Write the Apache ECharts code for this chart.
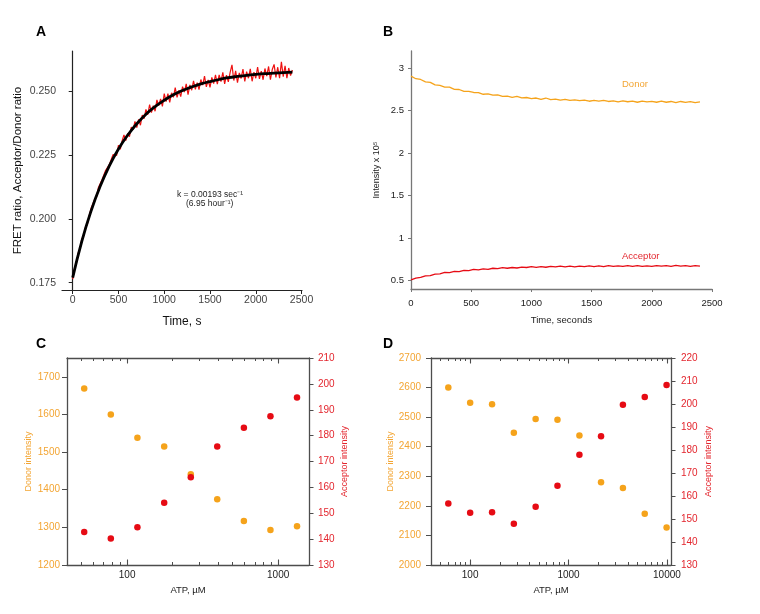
<!DOCTYPE html>
<html><head><meta charset="utf-8">
<script src="https://cdn.jsdelivr.net/npm/echarts@6/dist/echarts.min.js"></script>
<style>html,body{margin:0;padding:0;background:#fff}#c{width:760px;height:614px}</style>
</head><body><div id="c"></div>
<script>
// ---------- Panel A: FRET ratio vs time ----------
const timeA = [0,20,40,60,80,100,120,140,160,180,200,220,240,260,280,300,320,340,360,380,400,420,440,460,480,500,520,540,560,580,600,620,640,660,680,700,720,740,760,780,800,820,840,860,880,900,920,940,960,980,1000,1020,1040,1060,1080,1100,1120,1140,1160,1180,1200,1220,1240,1260,1280,1300,1320,1340,1360,1380,1400,1420,1440,1460,1480,1500,1520,1540,1560,1580,1600,1620,1640,1660,1680,1700,1720,1740,1760,1780,1800,1820,1840,1860,1880,1900,1920,1940,1960,1980,2000,2020,2040,2060,2080,2100,2120,2140,2160,2180,2200,2220,2240,2260,2280,2300,2320,2340,2360,2380,2400];
const fretA = [0.1764,0.1806,0.1826,0.1866,0.1883,0.1922,0.1933,0.1968,0.1978,0.2012,
0.2040,0.2042,0.2077,0.2085,0.2121,0.2117,0.2153,0.2154,0.2190,0.2186,
0.2212,0.2207,0.2251,0.2254,0.2248,0.2288,0.2272,0.2306,0.2328,0.2306,
0.2334,0.2321,0.2359,0.2349,0.2381,0.2357,0.2389,0.2366,0.2406,0.2392,
0.2428,0.2407,0.2447,0.2415,0.2443,0.2421,0.2465,0.2443,0.2469,0.2440,
0.2490,0.2458,0.2490,0.2455,0.2493,0.2475,0.2513,0.2475,0.2502,0.2478,
0.2517,0.2496,0.2528,0.2486,0.2524,0.2503,0.2540,0.2506,0.2533,0.2505,
0.2545,0.2523,0.2558,0.2516,0.2543,0.2514,0.2553,0.2529,0.2563,0.2527,
0.2563,0.2537,0.2573,0.2528,0.2562,0.2536,0.2573,0.2602,0.2541,0.2579,
0.2533,0.2571,0.2549,0.2586,0.2538,0.2576,0.2550,0.2587,0.2538,0.2574,
0.2550,0.2594,0.2547,0.2578,0.2544,0.2588,0.2558,0.2596,0.2544,0.2584,
0.2604,0.2553,0.2593,0.2550,0.2614,0.2556,0.2598,0.2550,0.2590,0.2560,
0.2582];
const fitTimeA = [0,100,200,300,400,500,600,700,800,900,1000,1100,1200,1300,1400,1500,1600,1700,1800,1900,2000,2100,2200,2300,2400];
const fitA = [0.1770,0.1913,0.2030,0.2127,0.2207,0.2273,0.2327,0.2372,0.2409,0.2439,0.2464,0.2485,0.2502,0.2516,0.2528,0.2537,0.2545,0.2552,0.2557,0.2561,0.2565,0.2568,0.2570,0.2572,0.2574];
const ticksAx = [0,500,1000,1500,2000,2500];
const ticksAy = [0.175,0.200,0.225,0.250];

// ---------- Panel B: donor / acceptor intensity vs time ----------
const timeB = [0,40,80,120,160,200,240,280,320,360,400,440,480,520,560,600,640,680,720,760,800,840,880,920,960,1000,1040,1080,1120,1160,1200,1240,1280,1320,1360,1400,1440,1480,1520,1560,1600,1640,1680,1720,1760,1800,1840,1880,1920,1960,2000,2040,2080,2120,2160,2200,2240,2280,2320,2360,2400];
const donorB = [2.904,2.874,2.865,2.837,2.830,2.801,2.795,2.774,2.774,2.749,
2.747,2.725,2.726,2.712,2.711,2.691,2.695,2.680,2.684,2.667,
2.669,2.655,2.665,2.648,2.653,2.640,2.647,2.631,2.647,2.629,
2.633,2.621,2.632,2.618,2.624,2.615,2.623,2.609,2.619,2.610,
2.620,2.606,2.613,2.602,2.614,2.603,2.611,2.597,2.610,2.601,
2.607,2.597,2.609,2.597,2.606,2.592,2.606,2.596,2.605,2.593,
2.602];
const acceptorB = [0.507,0.529,0.536,0.555,0.557,0.574,0.578,0.595,0.592,0.606,
0.605,0.619,0.617,0.630,0.625,0.636,0.632,0.644,0.640,0.651,
0.644,0.653,0.647,0.658,0.653,0.662,0.654,0.663,0.656,0.666,
0.660,0.669,0.660,0.668,0.661,0.670,0.664,0.672,0.664,0.671,
0.663,0.676,0.666,0.673,0.666,0.675,0.667,0.674,0.665,0.673,
0.667,0.676,0.668,0.675,0.667,0.677,0.668,0.675,0.666,0.674,
0.669];
const ticksBx = [0,500,1000,1500,2000,2500];
const ticksBy = [0.5,1,1.5,2,2.5,3];

// ---------- Panel C ----------
const atpC = [52, 78, 117, 176, 264, 395, 593, 889, 1333];
const donorC = [1669, 1600, 1538, 1515, 1441, 1375, 1317, 1293, 1303];
const acceptorC = [142.8, 140.2, 144.6, 154.1, 163.9, 175.8, 183.0, 187.5, 194.7];
const ticksCyLeft = [1200,1300,1400,1500,1600,1700];
const ticksCMajor = [100,1000];
const ticksCMinor = [50,60,70,80,90,200,300,400,500,600,700,800,900];

// ---------- Panel D ----------
const atpD = [60, 100, 167, 278, 463, 772, 1290, 2140, 3570, 5950, 9920];
const donorD = [2600, 2549, 2544, 2447, 2494, 2491, 2438, 2280, 2260, 2173, 2127];
const acceptorD = [156.7, 152.7, 152.9, 147.9, 155.3, 164.5, 177.9, 186.0, 199.7, 203.0, 208.3];
const ticksDMajor = [100,1000,10000];
const ticksDMinor = [50,60,70,80,90,200,300,400,500,600,700,800,900,2000,3000,4000,5000,6000,7000,8000,9000];

const FONT = 'Liberation Sans, Arial, Helvetica, sans-serif';
const ORANGE = '#f5a31b';
const ORANGE_TXT = '#f3a533';
const RED = '#e60b14';
const RED_TXT = '#e3262e';
const FRAME = '#4d4d4d';
const plain = v => String(Math.round(Number(v) * 1000) / 1000);

const zip = (xs, ys) => xs.map((x, i) => [x, ys[i]]);

function logAxes(grid, min, max, major, minor, name) {
  const base = {gridIndex: grid, type: 'log', logBase: 10, min: min, max: max, splitLine: {show: false}};
  return [
    Object.assign({}, base, {position: 'bottom',
      axisLine: {show: true, lineStyle: {color: FRAME, width: 1.3}},
      axisTick: {show: true, inside: true, length: 5.5, customValues: major, lineStyle: {color: FRAME, width: 1.1}},
      axisLabel: {customValues: major, formatter: plain, fontSize: 10, color: '#222', margin: 5, fontFamily: FONT},
      name: name, nameLocation: 'middle', nameGap: 20,
      nameTextStyle: {fontSize: 9.5, color: '#222', fontFamily: FONT}}),
    Object.assign({}, base, {position: 'bottom',
      axisLine: {show: false},
      axisTick: {show: true, inside: true, length: 3, customValues: minor, lineStyle: {color: FRAME, width: 1}},
      axisLabel: {show: false}}),
    Object.assign({}, base, {position: 'top',
      axisLine: {show: true, lineStyle: {color: FRAME, width: 1.3}},
      axisTick: {show: true, inside: true, length: 5.5, customValues: major, lineStyle: {color: FRAME, width: 1.1}},
      axisLabel: {show: false}}),
    Object.assign({}, base, {position: 'top',
      axisLine: {show: false},
      axisTick: {show: true, inside: true, length: 3, customValues: minor, lineStyle: {color: FRAME, width: 1}},
      axisLabel: {show: false}})
  ];
}

const xAxes = [
  {gridIndex: 0, type: 'value', min: -117, max: 2505, splitLine: {show: false},
   axisLine: {lineStyle: {color: '#222', width: 1.2}},
   axisTick: {customValues: ticksAx, length: 4, lineStyle: {color: '#222'}},
   axisLabel: {customValues: ticksAx, formatter: plain, fontSize: 10.5, color: '#444', margin: 5, fontFamily: FONT},
   name: 'Time, s', nameLocation: 'middle', nameGap: 26,
   nameTextStyle: {fontSize: 12, color: '#111', fontFamily: FONT}},
  {gridIndex: 1, type: 'value', min: 0, max: 2500, splitLine: {show: false},
   axisLine: {lineStyle: {color: '#777', width: 1.3}},
   axisTick: {customValues: ticksBx, length: 3, lineStyle: {color: '#777'}},
   axisLabel: {customValues: ticksBx, formatter: plain, fontSize: 9.5, color: '#222', margin: 9, fontFamily: FONT},
   name: 'Time, seconds', nameLocation: 'middle', nameGap: 26,
   nameTextStyle: {fontSize: 9.5, color: '#222', fontFamily: FONT}}
].concat(logAxes(2, 40, 1600, ticksCMajor, ticksCMinor, 'ATP, µM'))
 .concat(logAxes(3, 40, 11000, ticksDMajor, ticksDMinor, 'ATP, µM'));

const yAxes = [
  {gridIndex: 0, type: 'value', min: 0.17214, max: 0.26565, splitLine: {show: false},
   axisLine: {show: true, lineStyle: {color: '#222', width: 1.2}},
   axisTick: {show: true, customValues: ticksAy, length: 4, lineStyle: {color: '#222'}},
   axisLabel: {customValues: ticksAy, formatter: v => Number(v).toFixed(3), fontSize: 10.5, color: '#444', margin: 6, fontFamily: FONT},
   name: 'FRET ratio, Acceptor/Donor ratio', nameLocation: 'middle', nameGap: 38,
   nameTextStyle: {fontSize: 11.5, color: '#111', fontFamily: FONT}},
  {gridIndex: 1, type: 'value', min: 0.4, max: 3.2, splitLine: {show: false},
   axisLine: {show: true, lineStyle: {color: '#777', width: 1.3}},
   axisTick: {show: true, customValues: ticksBy, length: 3, lineStyle: {color: '#777'}},
   axisLabel: {customValues: ticksBy, formatter: plain, fontSize: 9.5, color: '#222', margin: 7, fontFamily: FONT},
   name: 'Intensity x 10\u2075', nameLocation: 'middle', nameGap: 30,
   nameTextStyle: {fontSize: 9, color: '#222', fontFamily: FONT}},
  {gridIndex: 2, type: 'value', min: 1200, max: 1750, position: 'left', splitLine: {show: false},
   axisLine: {show: true, lineStyle: {color: FRAME, width: 1.3}},
   axisTick: {show: true, customValues: ticksCyLeft, length: 5, lineStyle: {color: FRAME}},
   axisLabel: {customValues: ticksCyLeft, formatter: plain, fontSize: 10, color: ORANGE_TXT, margin: 7, fontFamily: FONT},
   name: 'Donor intensity', nameLocation: 'middle', nameGap: 34,
   nameTextStyle: {fontSize: 9, color: ORANGE_TXT, fontFamily: FONT}},
  {gridIndex: 2, type: 'value', min: 130, max: 210, interval: 10, position: 'right', splitLine: {show: false},
   axisLine: {show: true, lineStyle: {color: FRAME, width: 1.3}},
   axisTick: {show: true, length: 4.5, lineStyle: {color: FRAME}},
   axisLabel: {formatter: plain, fontSize: 10, color: RED_TXT, margin: 9, fontFamily: FONT},
   name: 'Acceptor intensity', nameLocation: 'middle', nameGap: 31, nameRotate: 90,
   nameTextStyle: {fontSize: 9, color: RED_TXT, fontFamily: FONT}},
  {gridIndex: 3, type: 'value', min: 2000, max: 2700, interval: 100, position: 'left', splitLine: {show: false},
   axisLine: {show: true, lineStyle: {color: FRAME, width: 1.3}},
   axisTick: {show: true, length: 5, lineStyle: {color: FRAME}},
   axisLabel: {formatter: plain, fontSize: 10, color: ORANGE_TXT, margin: 10, fontFamily: FONT},
   name: 'Donor intensity', nameLocation: 'middle', nameGap: 34,
   nameTextStyle: {fontSize: 9, color: ORANGE_TXT, fontFamily: FONT}},
  {gridIndex: 3, type: 'value', min: 130, max: 220, interval: 10, position: 'right', splitLine: {show: false},
   axisLine: {show: true, lineStyle: {color: FRAME, width: 1.3}},
   axisTick: {show: true, length: 4.5, lineStyle: {color: FRAME}},
   axisLabel: {formatter: plain, fontSize: 10, color: RED_TXT, margin: 10, fontFamily: FONT},
   name: 'Acceptor intensity', nameLocation: 'middle', nameGap: 33, nameRotate: 90,
   nameTextStyle: {fontSize: 9, color: RED_TXT, fontFamily: FONT}}
];

const txt = (x, y, text, opts) => ({type: 'text', x: x, y: y, silent: true,
  style: Object.assign({text: text, fill: '#000', fontFamily: FONT, fontSize: 10, verticalAlign: 'middle', align: 'left'}, opts || {})});

const option = {
  animation: false,
  backgroundColor: '#fff',
  textStyle: {fontFamily: FONT},
  grid: [
    {left: 62, top: 51, width: 240, height: 239, outerBoundsMode: 'none'},
    {left: 411, top: 51, width: 301, height: 238, outerBoundsMode: 'none'},
    {left: 67, top: 358, width: 242, height: 207, outerBoundsMode: 'none'},
    {left: 431, top: 358, width: 240, height: 207, outerBoundsMode: 'none'}
  ],
  xAxis: xAxes,
  yAxis: yAxes,
  series: [
    {type: 'line', xAxisIndex: 0, yAxisIndex: 0, data: zip(timeA, fretA), showSymbol: false,
     lineStyle: {color: '#ee1111', width: 1.2}, z: 2},
    {type: 'line', xAxisIndex: 0, yAxisIndex: 0, data: zip(fitTimeA, fitA), showSymbol: false, smooth: true,
     lineStyle: {color: '#000', width: 2.8}, z: 3},
    {type: 'line', xAxisIndex: 1, yAxisIndex: 1, data: zip(timeB, donorB), showSymbol: false,
     lineStyle: {color: ORANGE, width: 1.3}},
    {type: 'line', xAxisIndex: 1, yAxisIndex: 1, data: zip(timeB, acceptorB), showSymbol: false,
     lineStyle: {color: RED, width: 1.3}},
    {type: 'scatter', xAxisIndex: 2, yAxisIndex: 2, data: zip(atpC, donorC), symbolSize: 6.5,
     itemStyle: {color: ORANGE, opacity: 1}},
    {type: 'scatter', xAxisIndex: 2, yAxisIndex: 3, data: zip(atpC, acceptorC), symbolSize: 6.5,
     itemStyle: {color: RED, opacity: 1}},
    {type: 'scatter', xAxisIndex: 6, yAxisIndex: 4, data: zip(atpD, donorD), symbolSize: 6.5,
     itemStyle: {color: ORANGE, opacity: 1}},
    {type: 'scatter', xAxisIndex: 6, yAxisIndex: 5, data: zip(atpD, acceptorD), symbolSize: 6.5,
     itemStyle: {color: RED, opacity: 1}}
  ],
  graphic: [
    txt(36, 32, 'A', {fontSize: 14, fontWeight: 'bold'}),
    txt(383, 32, 'B', {fontSize: 14, fontWeight: 'bold'}),
    txt(36, 344, 'C', {fontSize: 14, fontWeight: 'bold'}),
    txt(383, 344, 'D', {fontSize: 14, fontWeight: 'bold'}),
    txt(177, 195, 'k = 0.00193 sec\u207B\u00B9', {fontSize: 8.5, fill: '#222'}),
    txt(186, 204, '(6.95 hour\u207B\u00B9)', {fontSize: 8.5, fill: '#222'}),
    txt(622, 84, 'Donor', {fontSize: 9.5, fill: ORANGE_TXT}),
    txt(622, 256, 'Acceptor', {fontSize: 9.5, fill: RED_TXT})
  ]
};

const chart = echarts.init(document.getElementById('c'), null, {renderer: 'canvas'});
chart.setOption(option);
</script>
</body></html>
